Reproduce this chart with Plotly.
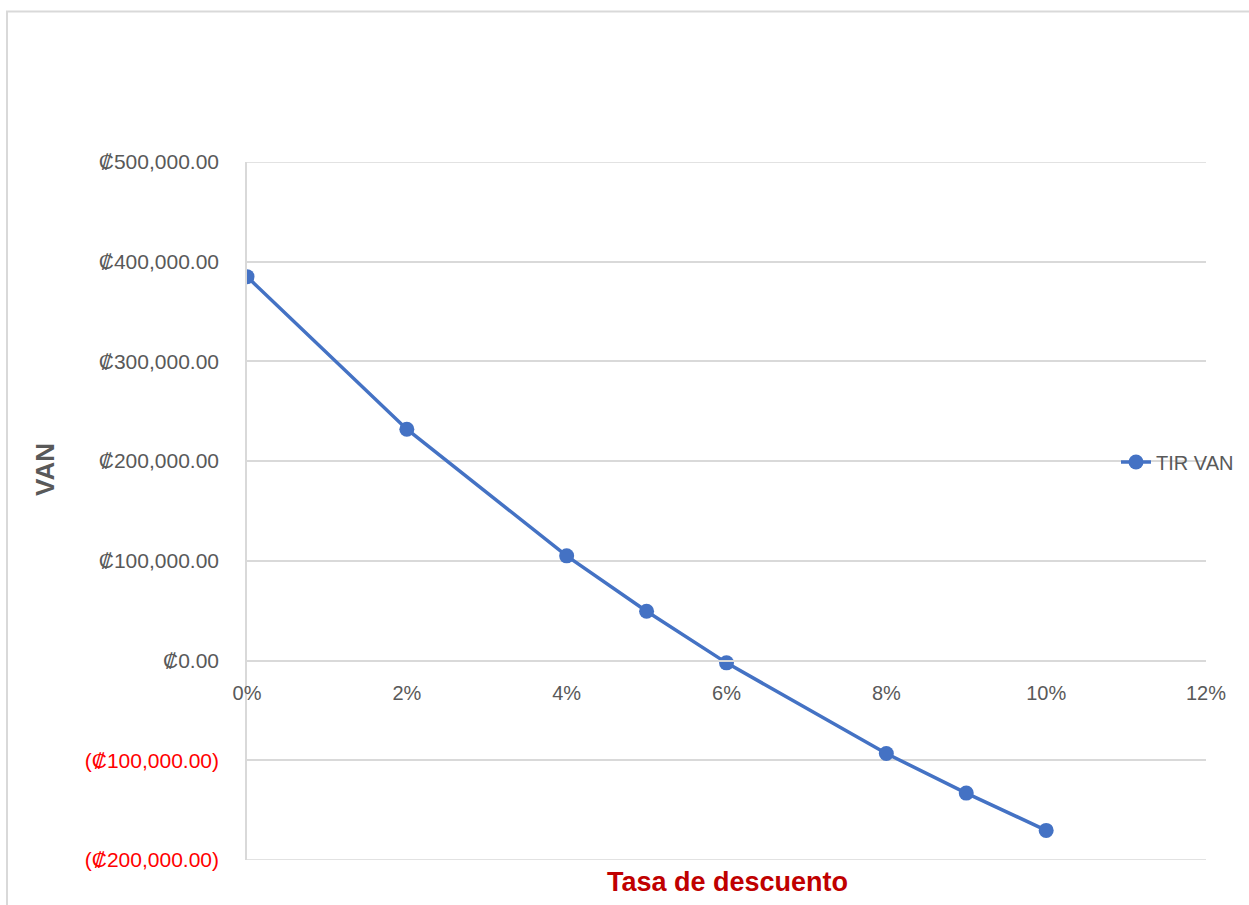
import plotly.graph_objects as go

# Tasa de descuento (%) y VAN correspondiente
tasas = [0, 2, 4, 5, 6, 8, 9, 10]
van = [385000, 232000, 105000, 49500, -2300, -93200, -132900, -170300]

y_ticks = [500000, 400000, 300000, 200000, 100000, 0, -100000, -200000]
x_ticks = [0, 2, 4, 6, 8, 10, 12]

W, H = 1249, 905
L, R, T, B = 247, 43, 162, 45
GRID = "#D9D9D9"
TXT = "#595959"


def fmt_colon(v):
    s = "\u20a1{:,.2f}".format(abs(v))
    if v < 0:
        return "<span style='color:#FF0000'>(" + s + ")</span>"
    return s


def px_x(p):
    return (p - L) / (W - L - R)


def px_y(p):
    return (H - B - p) / (H - B - T)


fig = go.Figure()
fig.add_trace(go.Scatter(
    x=tasas, y=van, mode="lines+markers", name="TIR VAN",
    line=dict(color="#4472C4", width=3.5),
    marker=dict(color="#4472C4", size=15),
))

ymin, ymax = -200000, 500000
zero_pos = (0 - ymin) / (ymax - ymin)

# gridlines at the edges of the value range
edge_lines = [
    dict(type="line", xref="paper", yref="y", x0=0, x1=1, y0=v, y1=v,
         line=dict(color=GRID, width=1.5), layer="below")
    for v in (ymin, ymax)
]

fig.update_layout(
    width=W, height=H,
    margin=dict(l=L, r=R, t=T, b=B, autoexpand=False),
    paper_bgcolor="white", plot_bgcolor="white",
    font=dict(family="Liberation Sans, Arial, sans-serif", size=21, color=TXT),
    showlegend=True,
    legend=dict(x=px_x(1116), y=px_y(462),
                xanchor="left", yanchor="middle",
                bgcolor="rgba(0,0,0,0)", font=dict(size=20, color=TXT)),
    xaxis=dict(
        range=[0, 12], tickvals=x_ticks,
        ticktext=["{}%".format(v) for v in x_ticks],
        showgrid=False, zeroline=False,
        showline=True, linecolor=GRID, linewidth=1.5,
        anchor="free", position=zero_pos,
        ticks="", ticklabelstandoff=15,
        tickfont=dict(size=20, color=TXT),
    ),
    yaxis=dict(
        range=[ymin, ymax], tickvals=y_ticks,
        ticktext=[fmt_colon(v) for v in y_ticks],
        showgrid=True, gridcolor=GRID, gridwidth=1.5,
        zeroline=False, showline=True, linecolor=GRID, linewidth=1.5,
        ticks="", ticklabelstandoff=22,
        tickfont=dict(size=21, color=TXT),
    ),
    annotations=[
        dict(text="<b>VAN</b>", xref="paper", yref="paper",
             x=px_x(45), y=px_y(470), xanchor="center", yanchor="middle",
             textangle=-90, showarrow=False,
             font=dict(size=26, color=TXT)),
        dict(text="<b>Tasa de descuento</b>", xref="paper", yref="paper",
             x=px_x(727), y=px_y(882), xanchor="center", yanchor="middle",
             showarrow=False, font=dict(size=27, color="#C00000")),
    ],
    shapes=edge_lines + [
        dict(type="rect", xref="paper", yref="paper",
             x0=px_x(7), x1=1.2, y0=-0.2, y1=px_y(11.5),
             line=dict(color=GRID, width=2), fillcolor="rgba(0,0,0,0)",
             layer="below"),
    ],
)

fig.write_html("out.html")
